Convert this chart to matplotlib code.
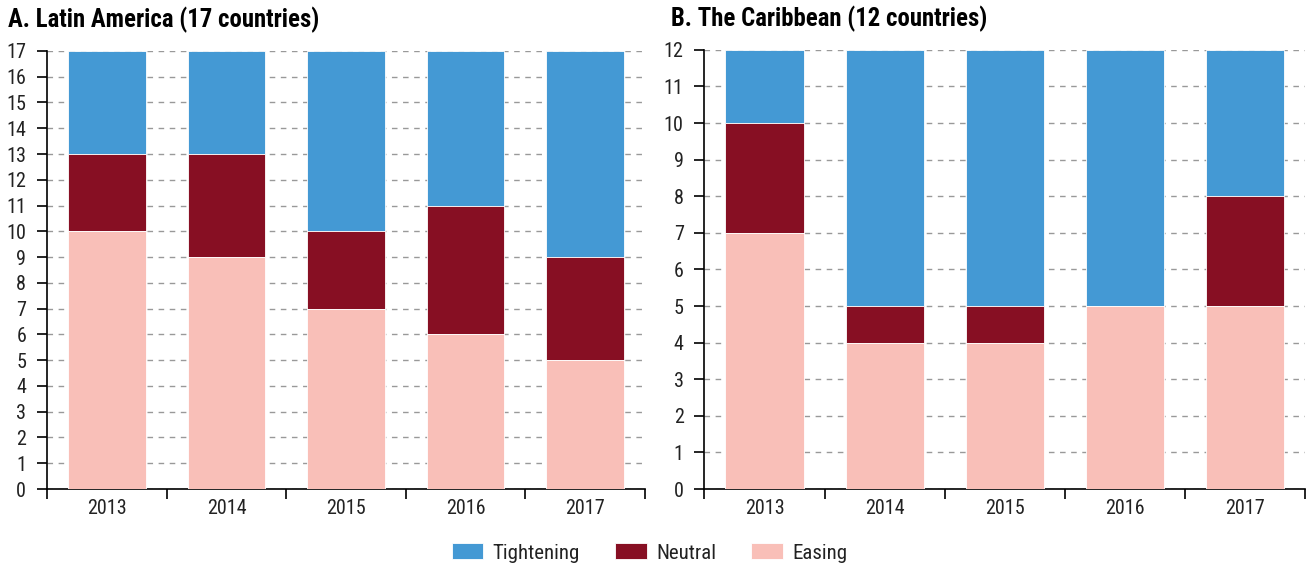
import matplotlib
matplotlib.use('Agg')
import matplotlib.pyplot as plt
from matplotlib import font_manager
import numpy as np

# procura uma fonte condensada instalada
nomes = {f.name for f in font_manager.fontManager.ttflist}
fonte = 'DejaVu Sans'
for cand in ['Roboto Condensed', 'Liberation Sans Narrow', 'Open Sans Condensed', 'DejaVu Sans Condensed']:
    if cand in nomes:
        fonte = cand
        break
plt.rcParams['font.family'] = [fonte, 'DejaVu Sans']
plt.rcParams['font.stretch'] = 'condensed'

anos = ['2013', '2014', '2015', '2016', '2017']

# Painel A - América Latina
la_easing = [10, 9, 7, 6, 5]
la_neutral = [3, 4, 3, 5, 4]
la_tightening = [4, 4, 7, 6, 8]

# Painel B - Caribe
cb_easing = [7, 4, 4, 5, 5]
cb_neutral = [3, 1, 1, 0, 3]
cb_tightening = [2, 7, 7, 7, 4]

cor_tight = '#4499D4'
cor_neutral = '#870F23'
cor_easing = '#F9BFB8'

fig = plt.figure(figsize=(13.07, 5.66), dpi=100)
ax1 = fig.add_axes([0.036, 0.136, 0.4575, 0.774])
ax2 = fig.add_axes([0.539, 0.136, 0.4595, 0.776])


def painel(ax, easing, neutral, tight, ymax, titulo, tx):
    x = np.arange(len(anos))
    e = np.array(easing)
    n = np.array(neutral)
    t = np.array(tight)
    w = 0.65
    ax.bar(x, t, w, bottom=e + n, color=cor_tight, label='Tightening',
           edgecolor='white', linewidth=0.6, zorder=3)
    ax.bar(x, n, w, bottom=e, color=cor_neutral, label='Neutral',
           edgecolor='white', linewidth=0.6, zorder=3)
    ax.bar(x, e, w, color=cor_easing, label='Easing',
           edgecolor='white', linewidth=0.6, zorder=3)
    ax.set_xlim(-0.5, len(anos) - 0.5)
    ax.set_ylim(0, ymax)
    ax.set_yticks(range(0, ymax + 1))
    ax.set_xticks(x)
    ax.set_xticklabels(anos)
    ax.set_xticks(np.arange(-0.5, len(anos)), minor=True)
    ax.tick_params(axis='x', which='major', length=0, pad=7, labelsize=14.5, labelcolor='#222222')
    ax.tick_params(axis='x', which='minor', length=7, width=1.2, direction='out')
    ax.tick_params(axis='y', length=7, width=1.2, direction='out', labelsize=14.5, pad=8,
                   labelcolor='#222222')
    ax.yaxis.grid(True, linestyle=(0, (4, 4)), color='#999999', linewidth=1, zorder=0)
    for s in ['top', 'right']:
        ax.spines[s].set_visible(False)
    ax.spines['left'].set_linewidth(1.2)
    ax.spines['bottom'].set_linewidth(1.2)
    ax.set_title(titulo, loc='left', fontsize=17.8, fontweight='bold', x=tx, pad=17)


painel(ax1, la_easing, la_neutral, la_tightening, 17, 'A. Latin America (17 countries)', -0.066)
painel(ax2, cb_easing, cb_neutral, cb_tightening, 12, 'B. The Caribbean (12 countries)', -0.056)

h, l = ax1.get_legend_handles_labels()
fig.legend(h, l, loc='center', ncol=3, frameon=False, fontsize=15,
           bbox_to_anchor=(0.497, 1 - 553 / 566), handlelength=1.5, handleheight=0.8,
           columnspacing=1.7, handletextpad=0.45, labelcolor='#222222')

fig.savefig('out.png', dpi=100)
